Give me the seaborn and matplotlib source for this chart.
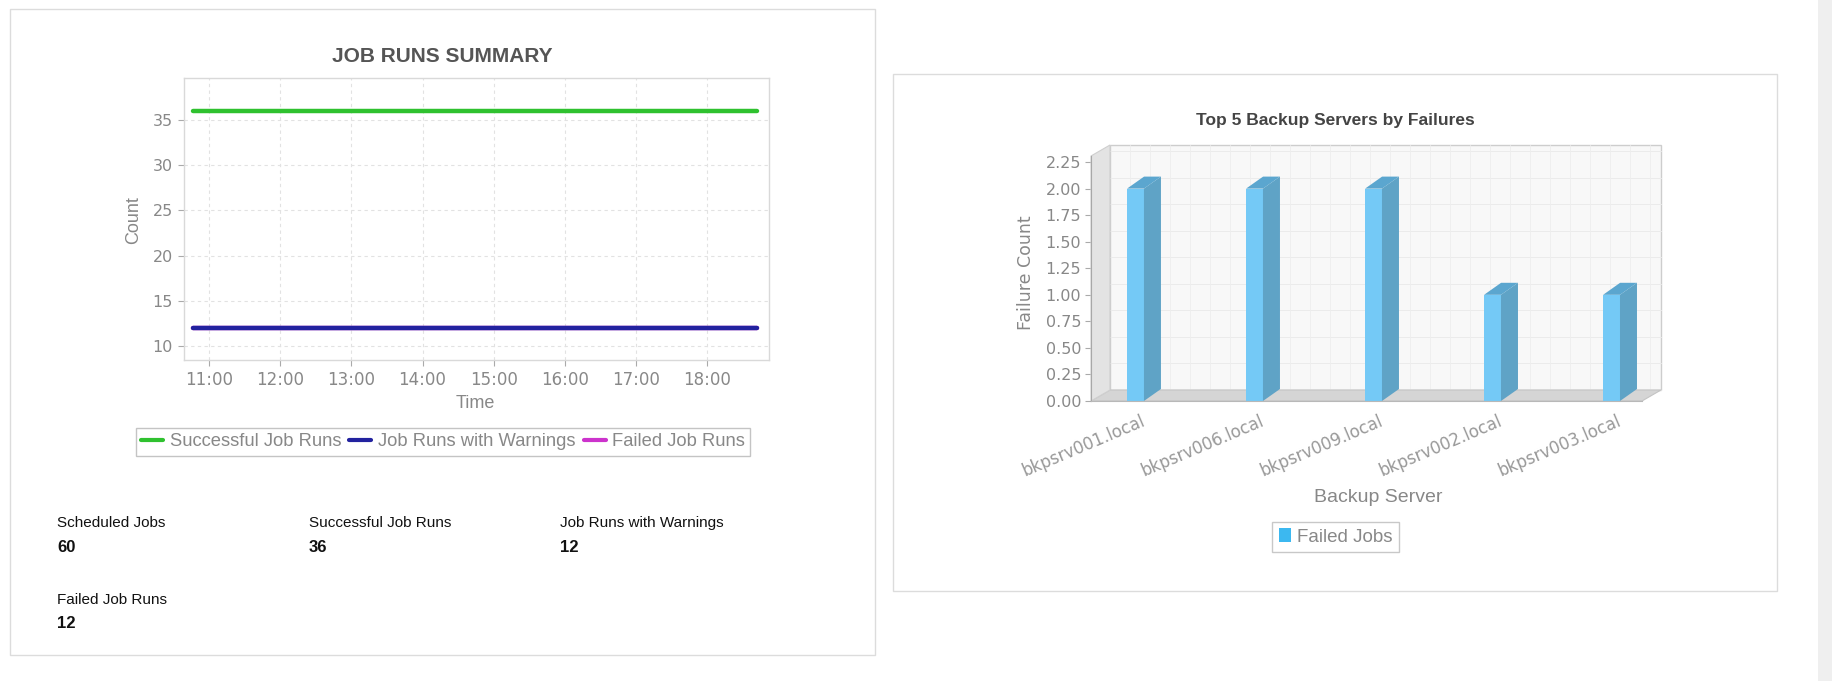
import numpy as np
import pandas as pd
import matplotlib
matplotlib.use("Agg")
import matplotlib.pyplot as plt
from matplotlib.patches import Rectangle, Polygon, Patch
from matplotlib.lines import Line2D
import matplotlib.transforms as mtransforms
import seaborn as sns

# ---------------- data ----------------
series_names = ["Successful Job Runs", "Job Runs with Warnings", "Failed Job Runs"]
series_values = [36, 12, 12]
series_colors = ["#2fc12f", "#22229f", "#cc33cc"]
time_start = "10:47"
time_end = "18:42"
time_ticks = ["11:00", "12:00", "13:00", "14:00", "15:00", "16:00", "17:00", "18:00"]
count_ticks = [10, 15, 20, 25, 30, 35]

summary_labels = ["Scheduled Jobs", "Successful Job Runs", "Job Runs with Warnings", "Failed Job Runs"]
summary_values = [60, 36, 12, 12]

servers = ["bkpsrv001.local", "bkpsrv006.local", "bkpsrv009.local", "bkpsrv002.local", "bkpsrv003.local"]
failures = [2, 2, 2, 1, 1]
failure_ticks = [0.00, 0.25, 0.50, 0.75, 1.00, 1.25, 1.50, 1.75, 2.00, 2.25]

# ---------------- setup ----------------
sns.set_style("white")
plt.rcParams["font.family"] = ["Liberation Sans", "DejaVu Sans"]

W, H = 1832, 681
fig = plt.figure(figsize=(W / 100, H / 100), dpi=100)
fig.patch.set_facecolor("white")


def fx(x):
    return x / W


def fy(y):
    return 1 - y / H


# page panels
fig.add_artist(Rectangle((fx(10), fy(655)), (875 - 10) / W, (655 - 9) / H,
                         transform=fig.transFigure, facecolor="white",
                         edgecolor="#dcdcdc", lw=1, zorder=-5))
fig.add_artist(Rectangle((fx(893), fy(591)), (1777 - 893) / W, (591 - 74) / H,
                         transform=fig.transFigure, facecolor="white",
                         edgecolor="#dcdcdc", lw=1, zorder=-5))
fig.add_artist(Rectangle((fx(1818), 0), (W - 1818) / W, 1,
                         transform=fig.transFigure, facecolor="#efefef",
                         edgecolor="none", zorder=-5))

# ---------------- left chart: line chart ----------------
day = "2024-01-01 "
rows = []
for name, val in zip(series_names, series_values):
    for t in (time_start, time_end):
        rows.append({"time": pd.Timestamp(day + t), "count": val, "series": name})
df_lines = pd.DataFrame(rows)

ax1 = fig.add_axes([184 / W, 1 - 360 / H, 585 / W, 282 / H])
ax1.set_facecolor("white")
sns.lineplot(data=df_lines, x="time", y="count", hue="series",
             hue_order=series_names, palette=series_colors,
             linewidth=3.2, ax=ax1, legend=False)
for ln, name in zip(ax1.lines, series_names):
    ln.set_solid_capstyle("round")
    ln.set_zorder(1.5 if name == "Failed Job Runs" else 2.5)

ax1.set_xlim(pd.Timestamp(day + "10:39"), pd.Timestamp(day + "18:52"))
ax1.set_ylim(8.45, 39.65)
ax1.set_xticks([pd.Timestamp(day + t) for t in time_ticks])
ax1.set_xticklabels(time_ticks)
ax1.set_yticks(count_ticks)
ax1.set_yticklabels([str(v) for v in count_ticks])
ax1.set_axisbelow(True)
ax1.grid(True, color="#e2e2e2", linestyle=(0, (3, 3)), linewidth=0.8)
ax1.tick_params(axis="both", direction="out", length=4, width=0.8,
                color="#aaaaaa", labelcolor="#888888", labelsize=11.5, pad=4,
                bottom=True, left=True)
ax1.tick_params(axis="x", labelsize=12)
for lbl in ax1.get_xticklabels() + ax1.get_yticklabels():
    lbl.set_fontfamily("DejaVu Sans")
for sp in ax1.spines.values():
    sp.set_color("#d9d9d9")
    sp.set_linewidth(1)
ax1.set_xlabel("Time", fontsize=13, color="#888888")
ax1.set_ylabel("Count", fontsize=13, color="#888888")
ax1.xaxis.label.set_va("center")
ax1.yaxis.label.set_va("center")
ax1.xaxis.set_label_coords((475 - 184) / 585, (360 - 403) / 282)
ax1.yaxis.set_label_coords((134 - 184) / 585, (360 - 220) / 282)

fig.text(fx(442), fy(56), "JOB RUNS SUMMARY", ha="center", va="center",
         fontsize=15, fontweight="bold", color="#555555")

handles1 = [Line2D([0], [0], color=c, lw=3) for c in series_colors]
leg1 = fig.legend(handles1, series_names, loc="center",
                  bbox_to_anchor=(fx(443), fy(441.5)), ncol=3,
                  fontsize=13.2, labelcolor="#888888", frameon=True,
                  fancybox=False, edgecolor="#c4c4c4", framealpha=1,
                  handlelength=1.2, handletextpad=0.35, columnspacing=0.45,
                  borderpad=0.3, borderaxespad=0)
leg1.get_frame().set_linewidth(1)

summary_pos = [(57, 523), (309, 523), (560, 523), (57, 600)]
for (x, y), lab, val in zip(summary_pos, summary_labels, summary_values):
    fig.text(fx(x), fy(y), lab, ha="left", va="center", fontsize=11, color="#111111")
    fig.text(fx(x), fy(y + 24), str(val), ha="left", va="center", fontsize=12,
             fontweight="bold", color="#111111")

# ---------------- right chart: pseudo-3D bar chart ----------------
front_col = "#74c9f6"
side_col = "#5fa3c6"
top_col = "#5ba6cf"

ax2 = fig.add_axes([1091 / W, 1 - 401 / H, 551 / W, 245 / H])
ax2.set_facecolor("none")
sns.barplot(x=servers, y=failures, color=front_col, width=0.142,
            saturation=1, linewidth=0, ax=ax2, zorder=3)
x0, x1 = -0.374, 4.256
y0, y1 = 0, 2.307
ax2.set_xlim(x0, x1)
ax2.set_ylim(y0, y1)

ax_w_px, ax_h_px = 551.0, 245.0
# depth of bars and walls (pixels) converted to data / axes units
bdx = 17 / (ax_w_px / (x1 - x0))
bdy = 12 / (ax_h_px / (y1 - y0))
wdx = 19 / ax_w_px
wdy = 11 / ax_h_px

bars = list(ax2.patches)
for p in bars:
    bx, bw, bh = p.get_x(), p.get_width(), p.get_height()
    side = Polygon([(bx + bw, 0), (bx + bw, bh), (bx + bw + bdx, bh + bdy), (bx + bw + bdx, bdy)],
                   closed=True, facecolor=side_col, edgecolor="none", zorder=3, clip_on=False)
    top = Polygon([(bx, bh), (bx + bw, bh), (bx + bw + bdx, bh + bdy), (bx + bdx, bh + bdy)],
                  closed=True, facecolor=top_col, edgecolor="none", zorder=3, clip_on=False)
    ax2.add_patch(side)
    ax2.add_patch(top)

# walls
back = Rectangle((wdx, wdy), 1, 1, transform=ax2.transAxes, facecolor="#f8f8f8",
                 edgecolor="#cdcdcd", lw=1, zorder=0.5, clip_on=False)
ax2.add_patch(back)
for v in failure_ticks:
    ya = v / (y1 - y0) + wdy
    ax2.add_line(Line2D([wdx, 1 + wdx], [ya, ya], transform=ax2.transAxes,
                        color="#ebebeb", lw=0.7, zorder=0.6, clip_on=False))
for xa in np.arange(wdx + 20 / ax_w_px, 1 + wdx, 20 / ax_w_px):
    ax2.add_line(Line2D([xa, xa], [wdy, 1 + wdy], transform=ax2.transAxes,
                        color="#eeeeee", lw=0.6, zorder=0.6, clip_on=False))
floor = Polygon([(0, 0), (1, 0), (1 + wdx, wdy), (wdx, wdy)], closed=True,
                transform=ax2.transAxes, facecolor="#d5d5d5", edgecolor="#c4c4c4",
                lw=0.8, zorder=0.7, clip_on=False)
ax2.add_patch(floor)
lwall = Polygon([(0, 0), (0, 1), (wdx, 1 + wdy), (wdx, wdy)], closed=True,
                transform=ax2.transAxes, facecolor="#e3e3e3", edgecolor="#cfcfcf",
                lw=0.8, zorder=0.7, clip_on=False)
ax2.add_patch(lwall)

for sp in ["top", "right"]:
    ax2.spines[sp].set_visible(False)
ax2.spines["left"].set_color("#a8a8a8")
ax2.spines["bottom"].set_color("#b8b8b8")
ax2.spines["left"].set_zorder(4)
ax2.spines["bottom"].set_zorder(4)

ax2.set_yticks(failure_ticks)
ax2.set_yticklabels([f"{v:.2f}" for v in failure_ticks])
ax2.tick_params(axis="y", direction="out", length=4, width=0.8, color="#aaaaaa",
                labelcolor="#888888", labelsize=11.5, pad=3, left=True)
ax2.set_xticks(range(len(servers)))
ax2.set_xticklabels(servers, rotation=23, ha="right", rotation_mode="anchor")
ax2.tick_params(axis="x", length=0, pad=8, labelsize=12, labelcolor="#999999")
shift = mtransforms.ScaledTranslation(5 / 100, 0, fig.dpi_scale_trans)
for lbl in ax2.get_xticklabels():
    lbl.set_fontfamily("DejaVu Sans")
    lbl.set_transform(lbl.get_transform() + shift)
for lbl in ax2.get_yticklabels():
    lbl.set_fontfamily("DejaVu Sans")

ax2.set_xlabel("Backup Server", fontsize=14, color="#888888")
ax2.set_ylabel("Failure Count", fontsize=12.5, color="#888888", family="DejaVu Sans")
ax2.xaxis.label.set_va("center")
ax2.yaxis.label.set_va("center")
ax2.xaxis.set_label_coords((1378 - 1091) / 551, (401 - 497) / 245)
ax2.yaxis.set_label_coords((1026 - 1091) / 551, (401 - 273) / 245)

fig.text(fx(1335), fy(121), "Top 5 Backup Servers by Failures", ha="center",
         va="center", fontsize=12.5, fontweight="bold", color="#444444")

leg2 = fig.legend(handles=[Patch(facecolor="#3cb8f0", edgecolor="none")],
                  labels=["Failed Jobs"], loc="center",
                  bbox_to_anchor=(fx(1335.5), fy(537)), fontsize=13.5,
                  labelcolor="#888888", frameon=True, fancybox=False,
                  edgecolor="#c8c8c8", framealpha=1, handlelength=0.65,
                  handleheight=0.7, handletextpad=0.3, borderpad=0.35,
                  borderaxespad=0)
leg2.get_frame().set_linewidth(1)

fig.savefig("out.png", dpi=100, facecolor="white")
